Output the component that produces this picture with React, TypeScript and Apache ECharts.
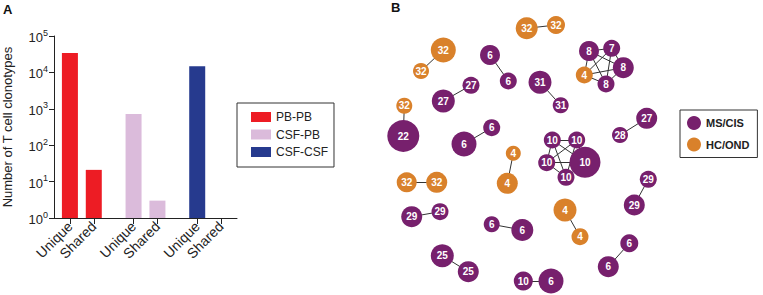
import React, { useEffect, useRef } from "react";
import * as echarts from "echarts";

// ---------- Panel A data ----------
const barCategories = ["Unique", "Shared", "Unique", "Shared", "Unique", "Shared"];
const barSlots = [2, 5, 10, 13, 18, 21]; // slot index of each category on the x axis
const pbpbValues = [34000, 21];
const csfpbValues = [720, 3];
const csfcsfValues: (number | null)[] = [14700, null];
const yTickExponents = [0, 1, 2, 3, 4, 5];
const barGroups = ["PB-PB", "CSF-PB", "CSF-CSF"];

// ---------- Panel B data ----------
const nodeLabels = [32, 32, 32, 32, 6, 6, 27, 27, 31, 31, 32, 22, 6, 6, 8, 7, 8, 4, 8, 27, 28, 10, 10, 10, 10, 10, 4, 4, 32, 32, 29, 29, 6, 6, 25, 25, 10, 6, 29, 29, 4, 4, 6, 6];
const nodeGroups = [1, 1, 1, 1, 0, 0, 0, 0, 0, 0, 1, 0, 0, 0, 0, 0, 0, 1, 0, 0, 0, 0, 0, 0, 0, 0, 1, 1, 1, 1, 0, 0, 0, 0, 0, 0, 0, 0, 0, 0, 1, 1, 0, 0];
const nodeX = [526.7, 556, 443.3, 421, 490, 508.3, 471, 443.3, 540, 560.7, 404.3, 403.3, 491.7, 464, 589, 611.7, 623.3, 584.3, 606, 646.7, 620, 552.3, 576.7, 546.7, 585, 566, 513.3, 507.3, 406.7, 436.7, 411.7, 440, 491.7, 522.3, 442.3, 468.3, 523.3, 551, 648.3, 634.3, 565, 580, 629.3, 608.3];
const nodeY = [28.3, 25, 50, 71, 55, 81, 85.3, 101, 82.3, 105.3, 105.7, 136, 127.7, 144, 51, 48.3, 67.7, 75, 84, 118.3, 135, 140, 140, 162.7, 162.3, 177.3, 153.3, 183.3, 182.3, 182.3, 216.7, 211.7, 224.3, 230, 255.7, 271.7, 281, 281, 179.3, 205, 210, 236.7, 243.3, 266.7];
const nodeSizes = [22, 18, 25, 16, 20, 17, 17, 23, 23, 16, 16, 32, 17, 25, 20, 17, 21, 17, 17, 21, 16, 17, 17, 17, 31, 17, 15, 21, 20, 21, 21, 17, 16, 22, 23, 21, 19, 25, 17, 21, 23, 17, 18, 21];
const nodeLinks: [number, number][] = [
  [0, 1], [2, 3], [4, 5], [6, 7], [8, 9], [10, 11], [12, 13],
  [14, 15], [14, 16], [14, 17], [14, 18], [15, 16], [15, 17], [15, 18], [16, 17], [16, 18], [17, 18],
  [19, 20],
  [21, 22], [21, 23], [21, 24], [21, 25], [22, 23], [22, 24], [22, 25], [23, 24], [23, 25], [24, 25],
  [26, 27], [28, 29], [30, 31], [32, 33], [34, 35], [36, 37], [38, 39], [40, 41], [42, 43],
];
const graphGroups = ["MS/CIS", "HC/OND"];

const RED = "#ed1c24";
const PINK = "#dbbbdb";
const BLUE = "#263a8e";
const PURPLE = "#77206d";
const ORANGE = "#d9812b";
const FONT = "'Liberation Sans', Arial, sans-serif";

export default function App() {
  const ref = useRef<HTMLDivElement>(null);
  useEffect(() => {
    if (!ref.current) return;
    const chart = echarts.init(ref.current, undefined, { renderer: "svg" });

    const nSlots = 24;
    const slotNames = Array.from({ length: nSlots }, (_, i) => "s" + i);
    const slotLabel: Record<number, string> = {};
    barSlots.forEach((s, i) => (slotLabel[s] = barCategories[i]));
    const makeSeriesData = (vals: (number | null)[], groupIdx: number) => {
      const arr: (number | null)[] = new Array(nSlots).fill(null);
      vals.forEach((v, j) => {
        arr[barSlots[groupIdx * 2 + j]] = v;
      });
      return arr;
    };
    const barColors = [RED, PINK, BLUE];
    const barVals = [pbpbValues, csfpbValues, csfcsfValues];

    const option: any = {
      animation: false,
      textStyle: { fontFamily: FONT },
      graphic: [
        { type: "text", left: 3, top: 3, style: { text: "A", font: "bold 13px " + FONT, fill: "#111" } },
        { type: "text", left: 391, top: 1, style: { text: "B", font: "bold 13px " + FONT, fill: "#111" } },
      ],
      legend: [
        {
          data: barGroups,
          orient: "vertical",
          left: 237,
          top: 103,
          padding: [8, 6, 9, 14],
          itemWidth: 20,
          itemHeight: 10,
          itemGap: 5.5,
          icon: "rect",
          borderColor: "#333",
          borderWidth: 1,
          borderRadius: 0,
          selectedMode: false,
          textStyle: { fontSize: 12, color: "#222", fontFamily: FONT },
        },
        {
          data: graphGroups,
          orient: "vertical",
          left: 680,
          top: 110,
          padding: [6, 8, 6, 7],
          itemWidth: 14,
          itemHeight: 14,
          itemGap: 7.5,
          icon: "circle",
          borderColor: "#333",
          borderWidth: 1,
          borderRadius: 0,
          selectedMode: false,
          textStyle: { fontSize: 11, fontWeight: "bold", color: "#222", fontFamily: FONT },
        },
      ],
      grid: [
        { left: 53, top: 36, width: 184, height: 182 },
        { left: 0, top: 0, right: 0, bottom: 0 },
      ],
      xAxis: [
        {
          type: "category",
          gridIndex: 0,
          data: slotNames,
          boundaryGap: false,
          axisLine: { lineStyle: { color: "#222", width: 1 } },
          axisTick: {
            interval: (i: number) => slotLabel[i] !== undefined,
            length: 6,
            lineStyle: { color: "#222" },
          },
          axisLabel: {
            interval: (i: number) => slotLabel[i] !== undefined,
            formatter: (_v: string, i: number) => slotLabel[i] ?? "",
            rotate: 45,
            margin: 6,
            fontSize: 14,
            color: "#222",
            fontFamily: FONT,
          },
          splitLine: { show: false },
        },
        { type: "value", gridIndex: 1, min: 0, max: 763, show: false },
      ],
      yAxis: [
        {
          type: "log",
          gridIndex: 0,
          logBase: 10,
          min: Math.pow(10, yTickExponents[0]),
          max: Math.pow(10, yTickExponents[yTickExponents.length - 1]),
          name: "Number of T cell clonotypes",
          nameLocation: "middle",
          nameGap: 40,
          nameTextStyle: { fontSize: 13, color: "#222", fontFamily: FONT },
          axisLine: { show: true, lineStyle: { color: "#222", width: 1 } },
          axisTick: { show: true, length: 5, lineStyle: { color: "#222" } },
          minorTick: { show: false },
          splitLine: { show: false },
          axisLabel: {
            margin: 6,
            color: "#222",
            formatter: (v: number) => `{b|10}{s|${Math.round(Math.log10(v))}}`,
            rich: {
              b: { fontSize: 13, color: "#222", fontFamily: FONT, lineHeight: 16, verticalAlign: "bottom" },
              s: { fontSize: 9, color: "#222", fontFamily: FONT, lineHeight: 16, verticalAlign: "top" },
            },
          },
        },
        { type: "value", gridIndex: 1, min: 0, max: 295, inverse: true, show: false },
      ],
      series: [
        ...barGroups.map((g, gi) => ({
          name: g,
          type: "bar",
          xAxisIndex: 0,
          yAxisIndex: 0,
          data: makeSeriesData(barVals[gi], gi),
          barWidth: 16,
          barGap: "-100%",
          itemStyle: { color: barColors[gi] },
        })),
        {
          type: "graph",
          coordinateSystem: "cartesian2d",
          xAxisIndex: 1,
          yAxisIndex: 1,
          roam: false,
          categories: graphGroups.map((g, i) => ({ name: g, itemStyle: { color: i === 0 ? PURPLE : ORANGE } })),
          data: nodeLabels.map((lab, i) => ({
            name: "n" + i,
            value: [nodeX[i], nodeY[i]],
            symbolSize: nodeSizes[i],
            category: nodeGroups[i],
          })),
          links: nodeLinks.map(([s, t]) => ({ source: "n" + s, target: "n" + t })),
          label: {
            show: true,
            position: "inside",
            color: "#fff",
            fontWeight: "bold",
            fontSize: 10,
            fontFamily: FONT,
            formatter: (p: any) => String(nodeLabels[p.dataIndex]),
          },
          lineStyle: { color: "#333", width: 1, opacity: 1, curveness: 0 },
          emphasis: { disabled: true },
        },
      ],
    };
    chart.setOption(option);
    return () => chart.dispose();
  }, []);
  return <div ref={ref} style={{ position: "absolute", left: 0, top: 0, width: 763, height: 295, background: "#fff" }} />;
}
